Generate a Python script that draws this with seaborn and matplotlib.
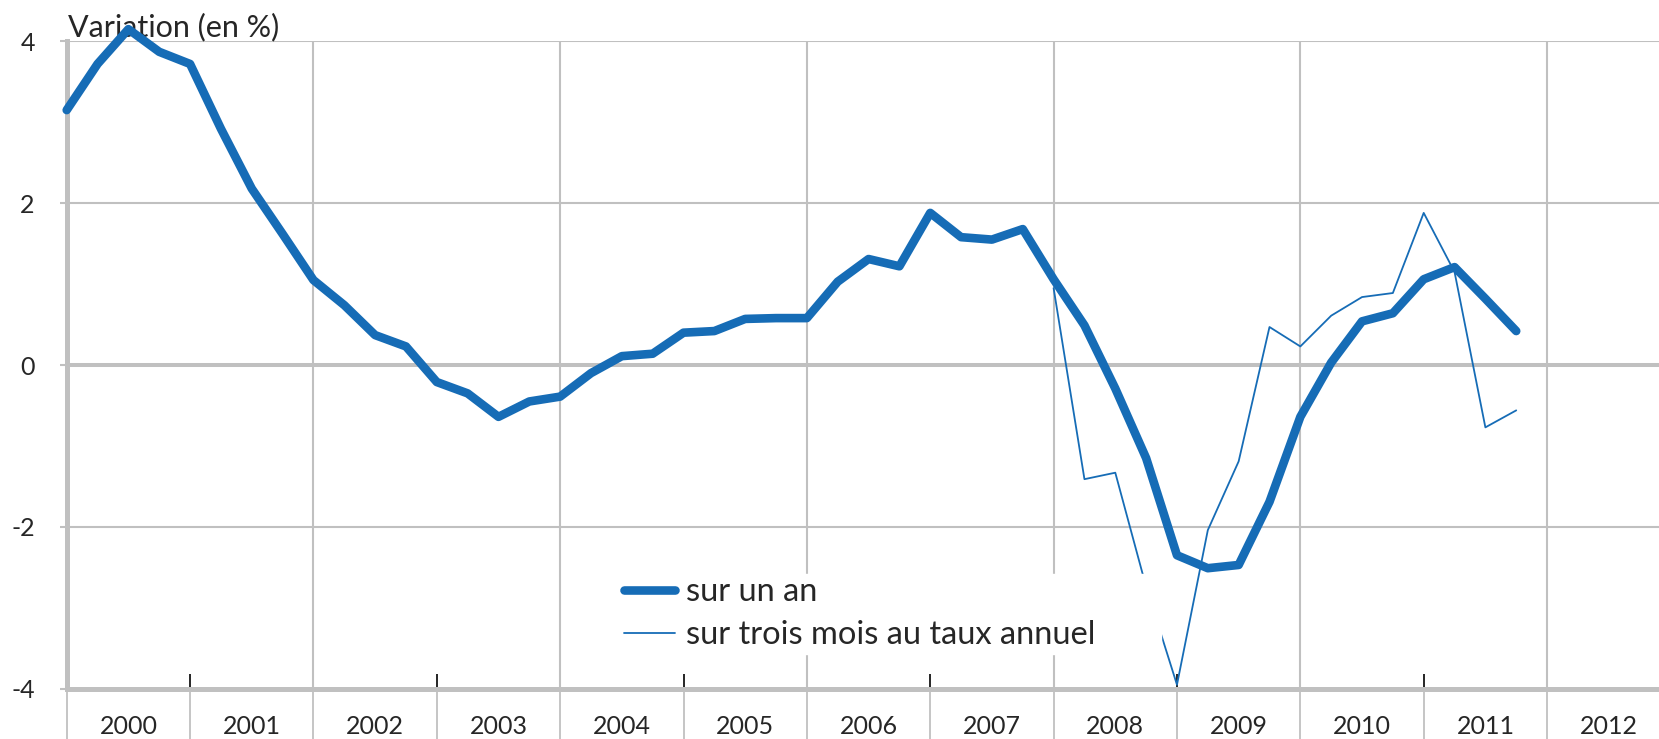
import numpy as np
import pandas as pd
import matplotlib
matplotlib.use("Agg")
import matplotlib.pyplot as plt
import seaborn as sns

# quarterly data, 2000Q1 - 2011Q4
quarters = pd.period_range("2000Q1", "2011Q4", freq="Q")
sur_un_an = [3.15, 3.72, 4.15, 3.87,
             3.72, 2.92, 2.18, 1.62,
             1.05, 0.74, 0.37, 0.23,
             -0.21, -0.35, -0.64, -0.45,
             -0.39, -0.10, 0.11, 0.14,
             0.40, 0.42, 0.57, 0.58,
             0.58, 1.03, 1.31, 1.22,
             1.88, 1.58, 1.55, 1.68,
             1.06, 0.49, -0.29, -1.15,
             -2.35, -2.51, -2.47, -1.69,
             -0.64, 0.03, 0.54, 0.64,
             1.06, 1.21, 0.82, 0.42]

# three-month series only from 2008Q1
quarters_3m = pd.period_range("2008Q1", "2011Q4", freq="Q")
sur_trois_mois = [0.95, -1.41, -1.33, -2.74,
                  -3.95, -2.04, -1.19, 0.47,
                  0.23, 0.61, 0.84, 0.89,
                  1.88, 1.15, -0.77, -0.56]

years = list(range(2000, 2013))
y_ticks = [-4, -2, 0, 2, 4]
legend_labels = ["sur un an", "sur trois mois au taux annuel"]
title = "Variation (en %)"

blue = "#166cb6"
grey = "#c0c0c0"

def to_decimal(periods):
    return periods.year + (periods.quarter - 1) / 4

df1 = pd.DataFrame({"date": to_decimal(quarters), "value": sur_un_an})
df2 = pd.DataFrame({"date": to_decimal(quarters_3m), "value": sur_trois_mois})

sns.set_theme(style="white")
plt.rcParams["font.family"] = ["Lato", "DejaVu Sans"]

W, H = 1659, 739
fig = plt.figure(figsize=(W / 100, H / 100), dpi=100)
ax = fig.add_axes([66.7 / W, 1 - 688.8 / H, 1 - 66.7 / W, (688.8 - 41.3) / H])

# grid
for y in y_ticks:
    ax.axhline(y, color=grey, lw=2.9 if y == 0 else 1.5, zorder=0)
for yr in years:
    if yr % 2 == 0 and yr > 2000:
        ax.axvline(yr, color=grey, lw=1.5, zorder=0)

sns.lineplot(data=df1, x="date", y="value", color=blue, lw=6.2,
             solid_capstyle="round", label=legend_labels[0], ax=ax,
             clip_on=False, zorder=4)
sns.lineplot(data=df2, x="date", y="value", color=blue, lw=1.3,
             label=legend_labels[1], ax=ax, clip_on=False, zorder=3)

ax.set_xlim(2000, 2000 + (1568 - 63) / 116.6)
ax.set_ylim(-4, 4)
ax.set_xlabel("")
ax.set_ylabel("")

# x axis: grey separators below, year labels in between
ax.set_xticks(years)
ax.set_xticklabels([])
ax.set_xticks([y + 0.5 for y in years], minor=True)
ax.set_xticklabels([str(y) for y in years], minor=True)
ax.tick_params(axis="x", which="major", direction="out", length=36,
               width=1.3, color=grey, bottom=True)
ax.tick_params(axis="x", which="minor", length=0, pad=19, labelsize=18,
               bottom=True)

# small black ticks on odd years
sec = ax.secondary_xaxis("bottom")
sec.set_xticks([y for y in years if y % 2 == 1])
sec.tick_params(direction="in", length=11, width=1.2, color="black",
                labelbottom=False)
sec.spines["bottom"].set_visible(False)

# y axis
ax.set_yticks(y_ticks)
ax.set_yticklabels([str(v) for v in y_ticks])
ax.tick_params(axis="y", direction="out", length=5, width=1.5, color=grey,
               pad=18, labelsize=18, left=True)

for s in ["top", "right"]:
    ax.spines[s].set_visible(False)
ax.spines["left"].set_color(grey)
ax.spines["left"].set_linewidth(3.6)
ax.spines["bottom"].set_color(grey)
ax.spines["bottom"].set_linewidth(3.6)

ax.text(0.001, 1 + 5 / 647.5, title, transform=ax.transAxes,
        va="baseline", ha="left", fontsize=22, zorder=1)

# legend box (white, hides the lines behind it)
x0, x1, top = 621, 1161, 574
leg = ax.legend(loc="upper left",
                bbox_to_anchor=(x0 / W, 1 - top / H - 0.2, (x1 - x0) / W, 0.2),
                bbox_transform=fig.transFigure, mode="expand",
                fontsize=23.5, frameon=True, framealpha=1,
                facecolor="white", edgecolor="white", fancybox=False,
                borderpad=0.1, borderaxespad=0, handlelength=1.55,
                handletextpad=0.35, labelspacing=0.4)
leg.set_zorder(5)

fig.savefig("out.png", dpi=100)
